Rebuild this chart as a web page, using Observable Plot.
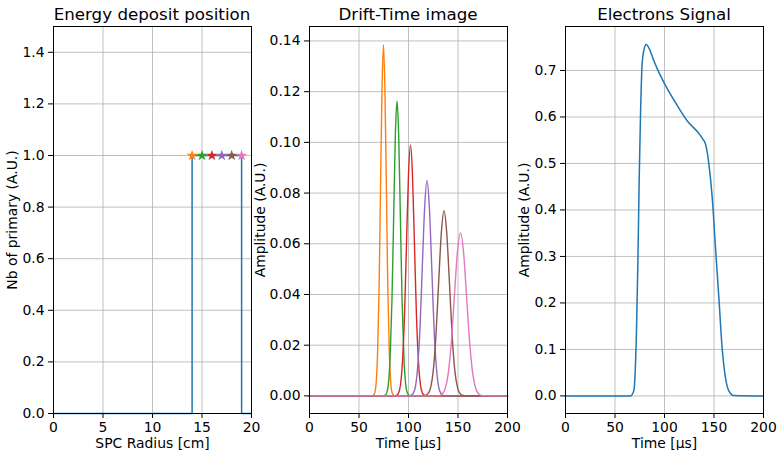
<!DOCTYPE html>
<html>
<head>
<meta charset="utf-8">
<script src="https://cdn.jsdelivr.net/npm/d3@7"></script>
<script src="https://cdn.jsdelivr.net/npm/@observablehq/plot@0.6"></script>
<style>
  body { margin: 0; background: white; }
  #root { position: relative; width: 777px; height: 450px; overflow: hidden; font-family: "DejaVu Sans", sans-serif; }
  .panel { position: absolute; top: 0; }
  .title { position: absolute; top: 4px; text-align: center; font-size: 16.7px; line-height: 20px; color: black; white-space: nowrap; }
  .panel svg { position: absolute; top: 16px; left: 0; background: transparent; max-width: none; }
</style>
</head>
<body>
<div id="root"></div>
<script>
// ---------- Data ----------
const tab10 = ["#1f77b4", "#ff7f0e", "#2ca02c", "#d62728", "#9467bd", "#8c564b", "#e377c2"];

// Panel 1: energy deposit (step outline) and primary positions
const depositRadius = [0, 14, 14, 19, 19, 20];
const depositCount  = [0, 0, 1, 1, 0, 0];
const primaryRadius = [14, 15, 16, 17, 18, 19];
const primaryCount  = [1, 1, 1, 1, 1, 1];

// Panel 2: drift-time pulses (one per primary)
const pulseTimes = [
  [0, 63.2, 64.6, 66.1, 67.5, 68.9, 70.4, 71.8, 73.3, 74.7, 76.1, 77.6, 79.0, 80.5, 81.9, 83.3, 84.8, 86.2, 200],
  [0, 74.7, 76.4, 78.1, 79.8, 81.5, 83.3, 85.0, 86.7, 88.4, 90.1, 91.8, 93.5, 95.3, 97.0, 98.7, 100.4, 102.1, 200],
  [0, 85.9, 87.9, 89.9, 91.9, 93.9, 96.0, 98.0, 100.0, 102.0, 104.0, 106.0, 108.0, 110.1, 112.1, 114.1, 116.1, 118.1, 200],
  [0, 99.9, 102.3, 104.6, 107.0, 109.3, 111.7, 114.0, 116.4, 118.7, 121.0, 123.4, 125.7, 128.1, 130.4, 132.8, 135.1, 137.5, 200],
  [0, 114.1, 116.8, 119.5, 122.3, 125.0, 127.7, 130.4, 133.2, 135.9, 138.6, 141.4, 144.1, 146.8, 149.6, 152.3, 155.0, 157.7, 200],
  [0, 127.7, 130.8, 133.9, 137.0, 140.1, 143.2, 146.3, 149.4, 152.5, 155.6, 158.7, 161.8, 164.9, 168.0, 171.1, 174.2, 177.3, 200]
];
const pulseAmps = [
  [0, 0, 0.0003, 0.0015, 0.0061, 0.0187, 0.0450, 0.0840, 0.1222, 0.1385, 0.1222, 0.0840, 0.0450, 0.0187, 0.0061, 0.0015, 0.0003, 0, 0],
  [0, 0, 0.0003, 0.0013, 0.0051, 0.0157, 0.0378, 0.0705, 0.1026, 0.1163, 0.1026, 0.0705, 0.0378, 0.0157, 0.0051, 0.0013, 0.0003, 0, 0],
  [0, 0, 0.0002, 0.0011, 0.0043, 0.0134, 0.0321, 0.0600, 0.0874, 0.0990, 0.0874, 0.0600, 0.0321, 0.0134, 0.0043, 0.0011, 0.0002, 0, 0],
  [0, 0, 0.0002, 0.0009, 0.0037, 0.0115, 0.0276, 0.0516, 0.0750, 0.0850, 0.0750, 0.0516, 0.0276, 0.0115, 0.0037, 0.0009, 0.0002, 0, 0],
  [0, 0, 0.0002, 0.0008, 0.0032, 0.0099, 0.0237, 0.0443, 0.0644, 0.0730, 0.0644, 0.0443, 0.0237, 0.0099, 0.0032, 0.0008, 0.0002, 0, 0],
  [0, 0, 0.0001, 0.0007, 0.0028, 0.0087, 0.0209, 0.0390, 0.0567, 0.0643, 0.0567, 0.0390, 0.0209, 0.0087, 0.0028, 0.0007, 0.0001, 0, 0]
];

// Panel 3: summed electron signal
const signalTime = [0, 65.7, 69, 71.7, 73.1, 74.4, 75.8, 77.4, 79.3, 81.5, 85, 88, 92.6, 101, 112.8, 122.9, 136.4, 138.5, 141.4, 143.3, 144.8, 148.2, 151.5, 154.9, 158.2, 161.6, 165, 170, 200];
const signalAmp  = [0, 0, 0.011, 0.14, 0.284, 0.463, 0.607, 0.714, 0.745, 0.756, 0.745, 0.728, 0.704, 0.668, 0.625, 0.592, 0.560, 0.553, 0.542, 0.522, 0.499, 0.427, 0.319, 0.212, 0.104, 0.039, 0.011, 0.001, 0];

// Ticks
const radiusTicks = [0, 5, 10, 15, 20];
const primaryTicks = [0, 0.2, 0.4, 0.6, 0.8, 1.0, 1.2, 1.4];
const timeTicks = [0, 50, 100, 150, 200];
const pulseTicks = [0, 0.02, 0.04, 0.06, 0.08, 0.10, 0.12, 0.14];
const signalTicks = [0, 0.1, 0.2, 0.3, 0.4, 0.5, 0.6, 0.7];

const titles = ["Energy deposit position", "Drift-Time image", "Electrons Signal"];

// ---------- Layout ----------
const plotW = 198, plotH = 387;
const mTop = 10, mBottom = 40, mRight = 14;
const gridStyle = { stroke: "#b0b0b0", strokeOpacity: 1, strokeWidth: 0.8 };
const axisCommon = { tickSize: 5, tickPadding: 4, labelArrow: "none", labelAnchor: "center" };
const root = document.getElementById("root");

function panel(left, mLeft, title, opts) {
  const div = document.createElement("div");
  div.className = "panel";
  const width = mLeft + plotW + mRight;
  div.style.left = left + "px";
  div.style.width = width + "px";
  div.style.height = "450px";
  const t = document.createElement("div");
  t.className = "title";
  t.textContent = title;
  t.style.left = mLeft + "px";
  t.style.width = plotW + "px";
  div.appendChild(t);
  const svg = Plot.plot({
    width, height: mTop + plotH + mBottom,
    marginLeft: mLeft, marginRight: mRight, marginTop: mTop, marginBottom: mBottom,
    style: { fontFamily: "DejaVu Sans, sans-serif", fontSize: "13.9px", color: "black", background: "transparent" },
    ...opts
  });
  div.appendChild(svg);
  root.appendChild(div);
}

// Panel 1
const depositData = depositRadius.map((r, i) => ({ r, n: depositCount[i] }));
const primaryData = primaryRadius.map((r, i) => ({ r, n: primaryCount[i], c: tab10[i + 1] }));
panel(0, 53, titles[0], {
  x: { domain: [0, 20] },
  y: { domain: [0, 1.5] },
  marks: [
    Plot.gridX(radiusTicks, gridStyle),
    Plot.gridY(primaryTicks, gridStyle),
    Plot.line(depositData, { x: "r", y: "n", stroke: tab10[0], strokeWidth: 1.5 }),
    Plot.dot(primaryData, { x: "r", y: "n", symbol: "star", fill: "c", stroke: "none", r: 3.5 }),
    Plot.frame({ stroke: "black", strokeWidth: 1 }),
    Plot.axisX({ ...axisCommon, ticks: radiusTicks, tickFormat: d3.format("d"), label: "SPC Radius [cm]", labelOffset: 34 }),
    Plot.axisY({ ...axisCommon, ticks: primaryTicks, tickFormat: d3.format(".1f"), label: "Nb of primary (A.U.)", labelOffset: 46 })
  ]
});

// Panel 2
const pulseData = pulseTimes.flatMap((ts, k) => ts.map((t, i) => ({ t, a: pulseAmps[k][i], k, c: tab10[k + 1] })));
panel(249, 60, titles[1], {
  x: { domain: [0, 200] },
  y: { domain: [-0.00694, 0.1457] },
  marks: [
    Plot.gridX(timeTicks, gridStyle),
    Plot.gridY(pulseTicks, gridStyle),
    ...pulseTimes.map((_, k) =>
      Plot.line(pulseData.filter(d => d.k === k), { x: "t", y: "a", stroke: tab10[k + 1], strokeWidth: 1.4, curve: "monotone-x" })),
    Plot.frame({ stroke: "black", strokeWidth: 1 }),
    Plot.axisX({ ...axisCommon, ticks: timeTicks, tickFormat: d3.format("d"), label: "Time [μs]", labelOffset: 34 }),
    Plot.axisY({ ...axisCommon, ticks: pulseTicks, tickFormat: d3.format(".2f"), label: "Amplitude (A.U.)", labelOffset: 54 })
  ]
});

// Panel 3
const signalData = signalTime.map((t, i) => ({ t, a: signalAmp[i] }));
panel(505, 60, titles[2], {
  x: { domain: [0, 200] },
  y: { domain: [-0.0378, 0.7946] },
  marks: [
    Plot.gridX(timeTicks, gridStyle),
    Plot.gridY(signalTicks, gridStyle),
    Plot.line(signalData, { x: "t", y: "a", stroke: tab10[0], strokeWidth: 1.5, curve: "monotone-x" }),
    Plot.frame({ stroke: "black", strokeWidth: 1 }),
    Plot.axisX({ ...axisCommon, ticks: timeTicks, tickFormat: d3.format("d"), label: "Time [μs]", labelOffset: 34 }),
    Plot.axisY({ ...axisCommon, ticks: signalTicks, tickFormat: d3.format(".1f"), label: "Amplitude (A.U.)", labelOffset: 46 })
  ]
});
</script>
</body>
</html>
